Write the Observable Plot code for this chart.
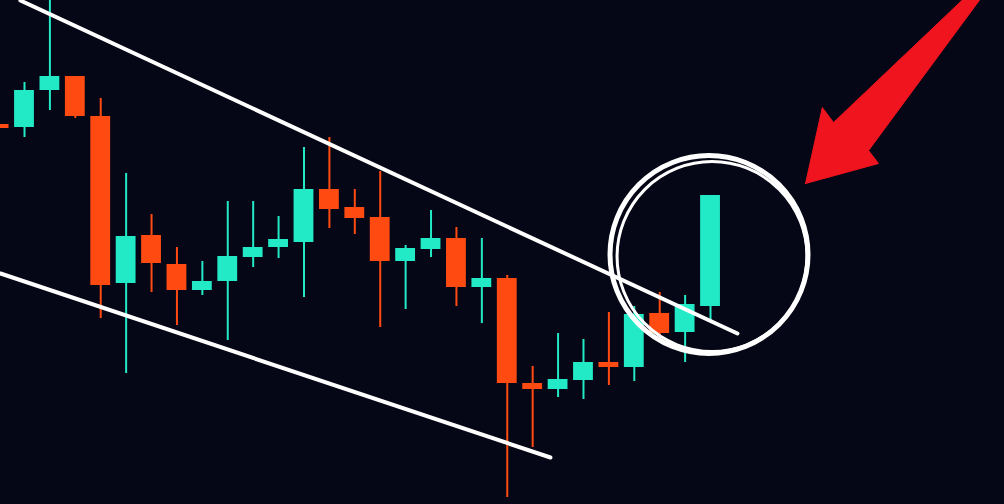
<!DOCTYPE html>
<html>
<head>
<meta charset="utf-8">
<script src="https://cdn.jsdelivr.net/npm/d3@7"></script>
<script src="https://cdn.jsdelivr.net/npm/@observablehq/plot@0.6"></script>
<style>
  html, body { margin: 0; padding: 0; background: #060716; overflow: hidden; }
  #chart svg { display: block; }
</style>
</head>
<body>
<div id="chart"></div>
<script>
// Candle data (index 0..28), prices in arbitrary units
const openP  = [58.0, 57.7, 61.4, 62.8, 58.8, 42.1, 46.9, 44.0, 41.4, 42.3, 44.7, 45.7, 46.2, 51.5, 49.7, 48.7, 44.3, 45.5, 46.6, 41.7, 42.6, 32.1, 31.5, 32.4, 34.2, 33.7, 39.1, 37.2, 39.8];
const highP  = [58.1, 62.2, 71.4, 62.8, 60.6, 53.1, 49.0, 45.7, 44.3, 50.3, 50.3, 48.8, 55.7, 56.7, 51.5, 53.3, 45.9, 49.4, 47.7, 46.6, 42.9, 33.8, 37.1, 36.5, 39.2, 39.8, 41.2, 40.9, 50.9];
const lowP   = [57.5, 56.7, 59.4, 58.6, 38.6, 33.1, 41.2, 37.9, 40.9, 36.4, 43.7, 44.6, 40.7, 47.6, 47.0, 37.7, 39.5, 44.7, 39.8, 38.1, 20.7, 25.7, 30.7, 30.5, 31.9, 32.3, 36.6, 34.2, 38.4];
const closeP = [57.6, 61.4, 62.8, 58.8, 41.9, 46.8, 44.1, 41.4, 42.3, 44.8, 45.7, 46.5, 51.5, 49.5, 48.6, 44.3, 45.6, 46.6, 41.7, 42.6, 32.1, 31.5, 32.5, 34.2, 33.7, 39.0, 37.1, 40.0, 50.9];

// Annotation geometry (index, price)
const upperTrendX = [0.84, 29.06];
const upperTrendY = [70.4, 37.1];
const lowerTrendX = [0.0555, 21.70];
const lowerTrendY = [43.1, 24.7];
const ringX = [27.94, 28.06];
const ringY = [45.0, 44.8];
const ringR = [99, 95];
const ringW = [5, 3];
const arrowX = [31.74, 32.40, 32.84, 38.10, 38.72, 34.22, 34.61, 31.74];
const arrowY = [52.1, 59.7, 58.2, 70.9, 70.9, 55.4, 54.1, 52.1];

const UP = "#22eac6", DOWN = "#ff4b12";

const candles = openP.map((o, i) => ({
  i, open: o, high: highP[i], low: lowP[i], close: closeP[i],
  color: closeP[i] >= o ? UP : DOWN
}));
const upper = upperTrendX.map((x, k) => ({x, y: upperTrendY[k]}));
const lower = lowerTrendX.map((x, k) => ({x, y: lowerTrendY[k]}));
const rings = ringX.map((x, k) => ({x, y: ringY[k], r: ringR[k], w: ringW[k]}));
const arrow = arrowX.map((x, k) => ({x, y: arrowY[k]}));

const chart = Plot.plot({
  width: 1004,
  height: 504,
  margin: 0,
  style: {background: "#060716", overflow: "hidden"},
  x: {domain: [0.0555, 39.57], axis: null},
  y: {domain: [20, 70.4], axis: null},
  r: {type: "identity"},
  marks: [
    Plot.ruleX(candles, {x: "i", y1: "low", y2: "high", stroke: "color", strokeWidth: 2, clip: true}),
    Plot.rect(candles, {x1: d => d.i - 0.39, x2: d => d.i + 0.39, y1: "open", y2: "close", fill: "color", clip: true}),
    Plot.line(upper, {x: "x", y: "y", stroke: "white", strokeWidth: 4, clip: true}),
    Plot.line(lower, {x: "x", y: "y", stroke: "white", strokeWidth: 4, clip: true}),
    Plot.dot(rings.slice(0, 1), {x: "x", y: "y", r: "r", stroke: "white", strokeWidth: ringW[0], fill: "none"}),
    Plot.dot(rings.slice(1), {x: "x", y: "y", r: "r", stroke: "white", strokeWidth: ringW[1], fill: "none"}),
    Plot.line(arrow, {x: "x", y: "y", fill: "#f0141e", stroke: "#f0141e", strokeWidth: 1, curve: "linear-closed", clip: true})
  ]
});
document.getElementById("chart").appendChild(chart);
</script>
</body>
</html>
